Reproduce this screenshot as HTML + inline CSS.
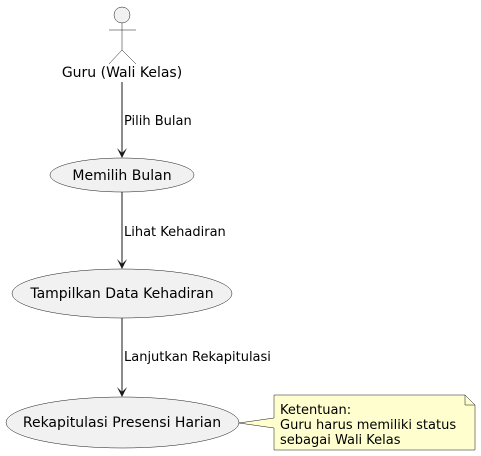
<!DOCTYPE html>
<html><head><meta charset="utf-8"><style>
html,body{margin:0;padding:0;background:#fff;width:481px;height:456px;overflow:hidden}
text{font-family:"DejaVu Sans","Liberation Sans",sans-serif;fill:#000}
</style></head><body>
<svg width="481" height="456" viewBox="0 0 481 456" xmlns="http://www.w3.org/2000/svg">
<g stroke="#181818" stroke-width="0.5" fill="none">
<circle cx="122" cy="15" r="8" fill="#f1f1f1"/>
<line x1="122" y1="23" x2="122" y2="50"/>
<line x1="109" y1="30" x2="136" y2="30"/>
<line x1="122" y1="50" x2="109" y2="64"/>
<line x1="122" y1="50" x2="136" y2="64"/>
</g>
<text x="122" y="77" font-size="14" text-anchor="middle">Guru (Wali Kelas)</text>
<g stroke="#181818" stroke-width="1" fill="none">
<line x1="122" y1="82" x2="122" y2="157"/>
<line x1="122" y1="192" x2="122" y2="268"/>
<line x1="122" y1="318" x2="122" y2="396"/>
</g>
<g fill="#181818">
<path d="M122,158 L117,148 L122,153 L127,148 Z"/>
<path d="M122,269 L117,259 L122,264 L127,259 Z"/>
<path d="M122,397 L117,387 L122,392 L127,387 Z"/>
</g>
<text x="124" y="125" font-size="13">Pilih Bulan</text>
<text x="124" y="236" font-size="13">Lihat Kehadiran</text>
<text x="124" y="361" font-size="13">Lanjutkan Rekapitulasi</text>
<g fill="#f1f1f1" stroke="#181818" stroke-width="0.5">
<ellipse cx="122" cy="175" rx="72" ry="17"/>
<ellipse cx="122" cy="293.5" rx="110" ry="24.5"/>
<ellipse cx="122.5" cy="422.5" rx="116.5" ry="25.5"/>
</g>
<text x="122" y="180" font-size="14" text-anchor="middle">Memilih Bulan</text>
<text x="122" y="298" font-size="14" text-anchor="middle">Tampilkan Data Kehadiran</text>
<text x="122" y="427" font-size="14" text-anchor="middle">Rekapitulasi Presensi Harian</text>
<path d="M274,395 L465,395 L475,405 L475,450 L274,450 L274,428 L239,423 L274,418 Z" fill="#fefece" stroke="#181818" stroke-width="0.5"/>
<path d="M465,395 L465,405 L475,405" fill="none" stroke="#181818" stroke-width="0.5"/>
<text x="280" y="414" font-size="13">Ketentuan:</text>
<text x="280" y="429" font-size="13">Guru harus memiliki status</text>
<text x="280" y="444" font-size="13">sebagai Wali Kelas</text>
</svg>
</body></html>
